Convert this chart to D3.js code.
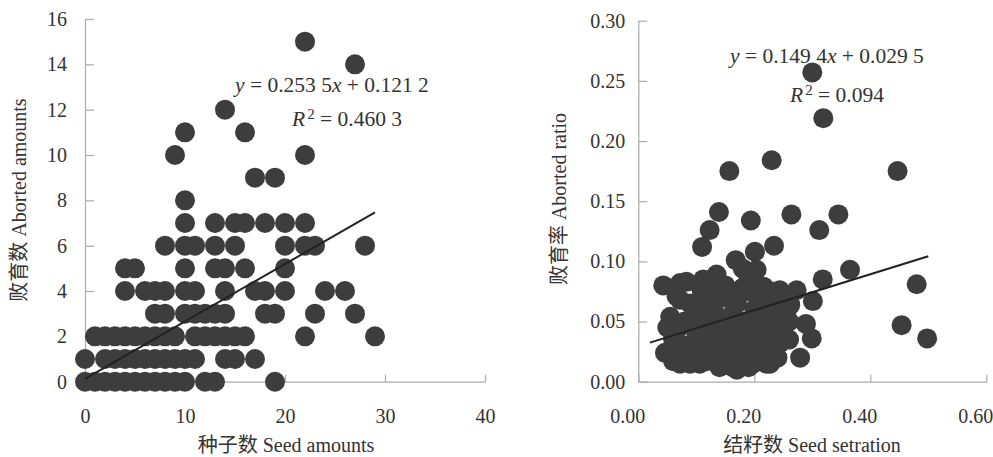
<!DOCTYPE html>
<html>
<head>
<meta charset="utf-8">
<script src="https://cdn.jsdelivr.net/npm/d3@7"></script>
<style>
  body { margin: 0; background: #fff; }
  svg { display: block; }
  text { font-family: "Liberation Serif", "Noto Sans CJK SC", serif; fill: #333; }
  .axis path, .axis line { stroke: #aaa; stroke-width: 1.2; }
  .axis text { font-size: 20px; fill: #333; }
</style>
</head>
<body>
<div id="vis"></div>
<script>
// left panel: seed amounts vs aborted amounts
const seedAmounts = [
  0,1,2,3,4,5,6,7,8,9,10,12,13,19,
  0,2,3,4,5,6,7,8,9,10,11,14,15,17,
  1,2,3,4,5,6,7,8,9,11,12,13,14,15,16,22,29,
  7,8,10,11,12,13,14,18,19,23,27,
  4,6,7,8,10,11,14,17,18,20,24,26,
  4,5,10,13,14,16,20,
  8,10,11,13,15,20,22,23,28,
  10,13,15,16,18,20,22,
  10, 17,19, 9,22, 10,16, 14, 27, 22
];
const abortedAmounts = [
  0,0,0,0,0,0,0,0,0,0,0,0,0,0,
  1,1,1,1,1,1,1,1,1,1,1,1,1,1,
  2,2,2,2,2,2,2,2,2,2,2,2,2,2,2,2,2,
  3,3,3,3,3,3,3,3,3,3,3,
  4,4,4,4,4,4,4,4,4,4,4,4,
  5,5,5,5,5,5,5,
  6,6,6,6,6,6,6,6,6,
  7,7,7,7,7,7,7,
  8, 9,9, 10,10, 11,11, 12, 14, 15
];
const leftXTicks = [0, 10, 20, 30, 40];
const leftYTicks = [0, 2, 4, 6, 8, 10, 12, 14, 16];
const leftFit = { slope: 0.2535, intercept: 0.1212, from: 0, to: 29 };

// right panel: seed setration vs aborted ratio
const seedSetration = [
  0.300,0.319,0.230,0.157,0.447,0.139,0.194,0.264,0.345,0.312,0.123,0.110,0.201,0.234,
  0.365,0.480,0.454,0.498,0.318,0.301,0.273,0.289,0.299,0.279,0.262,0.260,0.243,0.168,
  0.180,0.204,0.189,0.216,
  0.043,0.072,0.083,0.055,0.046,0.072,0.106,0.163,0.221,0.112,0.135,0.072,0.095,0.118,
  0.066,0.089,0.109,0.127,0.060,0.089,0.118,0.144,0.170,0.198,0.227,0.244,0.259,0.244,
  0.06,0.07,0.08,0.09,0.10,0.10,0.11,0.12,0.12,0.13,0.13,0.14,0.14,0.15,0.15,0.16,0.16,
  0.17,0.17,0.18,0.18,0.19,0.19,0.20,0.20,0.21,0.21,0.22,0.22,0.23,0.23,0.24,0.25,0.25,
  0.15,0.16,0.14,0.18,0.20,0.23,0.08,0.05,0.10,0.12,0.11,0.065,0.09,0.14,0.19,0.24,0.26,
  0.17,0.13,0.20
];
const abortedRatio = [
  0.257,0.219,0.184,0.175,0.175,0.141,0.134,0.139,0.139,0.126,0.126,0.112,0.108,0.113,
  0.093,0.081,0.047,0.036,0.085,0.067,0.076,0.048,0.036,0.020,0.064,0.035,0.074,0.101,
  0.094,0.093,0.089,0.079,
  0.080,0.082,0.083,0.054,0.024,0.015,0.015,0.012,0.015,0.085,0.089,0.068,0.064,0.074,
  0.071,0.065,0.076,0.067,0.017,0.015,0.017,0.017,0.010,0.015,0.015,0.032,0.062,0.076,
  0.035,0.045,0.030,0.050,0.040,0.025,0.055,0.045,0.030,0.060,0.020,0.050,0.035,0.070,0.025,0.055,0.040,
  0.065,0.030,0.050,0.020,0.075,0.040,0.060,0.030,0.050,0.070,0.040,0.025,0.060,0.035,0.050,0.040,0.065,
  0.080,0.075,0.080,0.078,0.078,0.075,0.050,0.045,0.060,0.060,0.020,0.025,0.020,0.012,0.012,0.020,0.050,
  0.045,0.040,0.045
];
const rightXTicks = [0, 0.2, 0.4, 0.6];
const rightYTicks = [0, 0.05, 0.10, 0.15, 0.20, 0.25, 0.30];
const rightFit = { slope: 0.1494, intercept: 0.0295, from: 0.02, to: 0.5 };

const width = 993, height = 457;
const dotColor = "#3d3d3d";

const svg = d3.select("#vis").append("svg")
  .attr("width", width)
  .attr("height", height);

function panel(opt) {
  const x = d3.scaleLinear().domain(opt.xDomain).range(opt.xRange);
  const y = d3.scaleLinear().domain(opt.yDomain).range(opt.yRange);
  const g = svg.append("g");

  g.append("g")
    .attr("class", "axis")
    .attr("transform", `translate(0,${opt.yRange[0]})`)
    .call(d3.axisBottom(x).tickValues(opt.xTicks).tickFormat(opt.xFmt)
      .tickSizeInner(-7).tickSizeOuter(0).tickPadding(27))
    .call(a => a.selectAll("text").attr("dx", opt.xLabelShift));

  g.append("g")
    .attr("class", "axis")
    .attr("transform", `translate(${opt.xRange[0]},0)`)
    .call(d3.axisLeft(y).tickValues(opt.yTicks).tickFormat(opt.yFmt)
      .tickSizeInner(-9).tickSizeOuter(0).tickPadding(opt.yPad));

  g.selectAll("circle.dot")
    .data(opt.xs.map((d, i) => [d, opt.ys[i]]))
    .join("circle")
    .attr("class", "dot")
    .attr("cx", d => x(d[0]))
    .attr("cy", d => y(d[1]))
    .attr("r", 10)
    .style("fill", dotColor);

  const f = opt.fit;
  g.append("line")
    .attr("x1", x(f.from)).attr("y1", y(f.slope * f.from + f.intercept))
    .attr("x2", x(f.to)).attr("y2", y(f.slope * f.to + f.intercept))
    .style("stroke", "#222")
    .style("stroke-width", 2);

  // axis titles
  g.append("text")
    .attr("x", opt.xTitlePos[0]).attr("y", opt.xTitlePos[1])
    .style("text-anchor", "middle").style("font-size", "20px")
    .text(opt.xTitle);
  g.append("text")
    .attr("transform", `translate(${opt.yTitlePos[0]},${opt.yTitlePos[1]}) rotate(-90)`)
    .style("text-anchor", "middle").style("font-size", "20px")
    .text(opt.yTitle);

  // equation
  const eq = g.append("text").attr("x", opt.eqPos[0]).attr("y", opt.eqPos[1]).style("font-size", "21.5px");
  eq.append("tspan").style("font-style", "italic").text("y");
  eq.append("tspan").text(" = " + opt.eq[0]);
  eq.append("tspan").style("font-style", "italic").text("x");
  eq.append("tspan").text(" + " + opt.eq[1]);

  const r2 = g.append("text").attr("x", opt.r2Pos[0]).attr("y", opt.r2Pos[1]).style("font-size", "21.5px");
  r2.append("tspan").style("font-style", "italic").text("R");
  r2.append("tspan").attr("dy", -7).attr("dx", 2).style("font-size", "15px").text("2");
  r2.append("tspan").attr("dy", 7).text(" = " + opt.r2);
}

panel({
  xs: seedAmounts, ys: abortedAmounts,
  xDomain: [0, 40], xRange: [85, 485],
  yDomain: [0, 16], yRange: [381.7, 19],
  xTicks: leftXTicks, yTicks: leftYTicks,
  xFmt: d3.format("d"), yFmt: d3.format("d"),
  xLabelShift: 0, yPad: 18,
  fit: leftFit,
  xTitle: "种子数 Seed amounts", xTitlePos: [286, 452],
  yTitle: "败育数 Aborted amounts", yTitlePos: [26, 200],
  eq: ["0.253 5", "0.121 2"], eqPos: [235, 92],
  r2: "0.460 3", r2Pos: [292, 126]
});

panel({
  xs: seedSetration, ys: abortedRatio,
  xDomain: [0, 0.6], xRange: [638.3, 986.3],
  yDomain: [0, 0.3], yRange: [381.7, 20.7],
  xTicks: rightXTicks, yTicks: rightYTicks,
  xFmt: d3.format(".2f"), yFmt: d3.format(".2f"),
  xLabelShift: -11, yPad: 13,
  fit: rightFit,
  xTitle: "结籽数 Seed setration", xTitlePos: [812, 452],
  yTitle: "败育率 Aborted ratio", yTitlePos: [566, 199],
  eq: ["0.149 4", "0.029 5"], eqPos: [730, 63],
  r2: "0.094", r2Pos: [790, 102]
});
</script>
</body>
</html>
